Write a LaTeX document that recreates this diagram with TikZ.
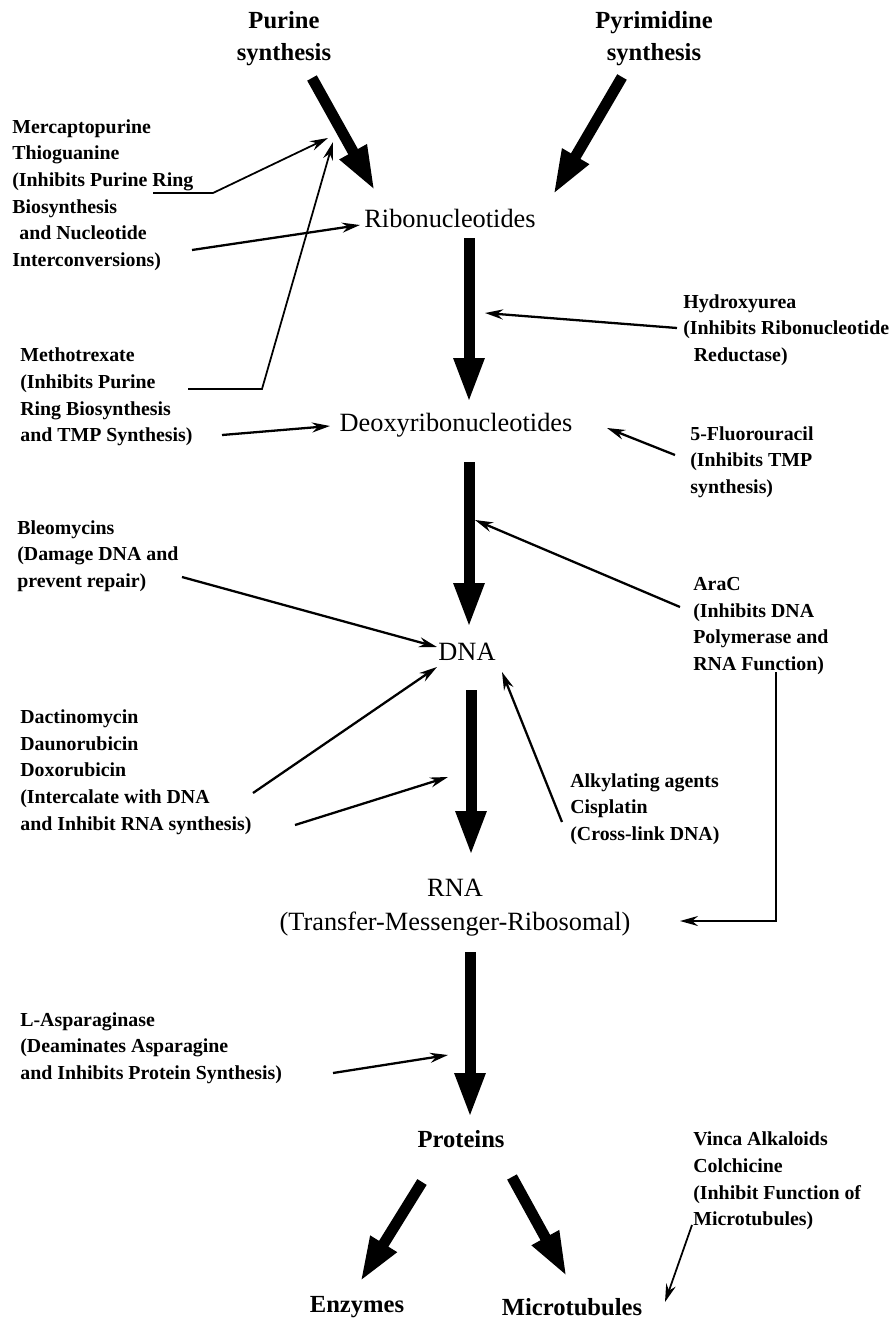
\documentclass[tikz,border=0pt]{standalone}
\usepackage{fontspec}
\setmainfont{Liberation Serif}
\usetikzlibrary{arrows.meta}

\begin{document}
\begin{tikzpicture}[
    x=0.02cm, y=-0.02cm,
    every node/.style={inner sep=0pt},
    main/.style={align=center, font=\fontsize{15}{19.4}\selectfont},
    mainb/.style={align=center, font=\fontsize{14}{18.2}\selectfont\bfseries},
    drug/.style={anchor=west, align=left, font=\fontsize{11.3}{15.2}\selectfont\bfseries},
    flow/.style={line width=0.22cm, -{Triangle[length=0.9cm, width=0.56cm]}},
    inh/.style={line width=1.3pt, -{Stealth[length=0.36cm, width=0.2cm]}},
    elbow/.style={line width=1pt, -{Stealth[length=0.36cm, width=0.2cm]}}
]
\useasboundingbox (0,0) rectangle (895,1321);

% 主干节点
\node[mainb] (purine) at (284,39) {Purine\\synthesis};
\node[mainb] (pyrim) at (654,39) {Pyrimidine\\synthesis};
\node[main] (ribo) at (450,218) {Ribonucleotides};
\node[main] (deoxy) at (456,425) {Deoxyribonucleotides};
\node[main] (dna) at (467,652) {DNA};
\node[main] (rna) at (455,908) {RNA\\(Transfer-Messenger-Ribosomal)};
\node[mainb] (prot) at (461,1139) {Proteins};
\node[mainb] (enz) at (357,1307) {Enzymes};
\node[mainb] (micro) at (572,1307) {Microtubules};

% 药物标签
\node[drug] (merc) at (12,195) {Mercaptopurine\\Thioguanine\\(Inhibits Purine Ring\\Biosynthesis\\\hspace*{4pt}and Nucleotide\\Interconversions)};
\node[drug] (mtx) at (20,397) {Methotrexate\\(Inhibits Purine\\Ring Biosynthesis\\and TMP Synthesis)};
\node[drug] (hydro) at (683,330) {Hydroxyurea\\(Inhibits Ribonucleotide\\\hspace*{6pt}Reductase)};
\node[drug] (fu) at (690,462) {5-Fluorouracil\\(Inhibits TMP\\synthesis)};
\node[drug] (bleo) at (17,556) {Bleomycins\\(Damage DNA and\\prevent repair)};
\node[drug] (arac) at (693,626) {AraC\\(Inhibits DNA\\Polymerase and\\RNA Function)};
\node[drug] (dact) at (20,772) {Dactinomycin\\Daunorubicin\\Doxorubicin\\(Intercalate with DNA\\and Inhibit RNA synthesis)};
\node[drug] (alky) at (570,809) {Alkylating agents\\Cisplatin\\(Cross-link DNA)};
\node[drug] (aspar) at (20,1048) {L-Asparaginase\\(Deaminates Asparagine\\and Inhibits Protein Synthesis)};
\node[drug] (vinca) at (693,1181) {Vinca Alkaloids\\Colchicine\\(Inhibit Function of\\Microtubules)};

% 粗箭头端点
\coordinate (pu-s) at (312,78);   \coordinate (pu-e) at (375,191);
\coordinate (py-s) at (622,77);   \coordinate (py-e) at (553,195);
\coordinate (rd-s) at (469,238);  \coordinate (rd-e) at (469,403);
\coordinate (dd-s) at (469,462);  \coordinate (dd-e) at (469,628);
\coordinate (dr-s) at (471,690);  \coordinate (dr-e) at (471,856);
\coordinate (rp-s) at (470,952);  \coordinate (rp-e) at (470,1118);
\coordinate (pe-s) at (422,1182); \coordinate (pe-e) at (360,1282);
\coordinate (pm-s) at (512,1177); \coordinate (pm-e) at (567,1277);

% 主干箭头
\draw[flow] (pu-s) -- (pu-e);
\draw[flow] (py-s) -- (py-e);
\draw[flow] (rd-s) -- (rd-e);
\draw[flow] (dd-s) -- (dd-e);
\draw[flow] (dr-s) -- (dr-e);
\draw[flow] (rp-s) -- (rp-e);
\draw[flow] (pe-s) -- (pe-e);
\draw[flow] (pm-s) -- (pm-e);

% 抑制箭头端点
\coordinate (merc-a) at (153,193); \coordinate (merc-b) at (213,193); \coordinate (merc-t) at (328,138);
\coordinate (merc-c) at (192,250); \coordinate (ribo-in) at (360,225);
\coordinate (mtx-a) at (188,389);  \coordinate (mtx-b) at (262,389);  \coordinate (mtx-t) at (333,142);
\coordinate (mtx-c) at (222,435);  \coordinate (deoxy-in) at (330,426);
\coordinate (hydro-a) at (677,328); \coordinate (hydro-t) at (485,313);
\coordinate (fu-a) at (675,455);   \coordinate (fu-t) at (607,428);
\coordinate (bleo-a) at (182,577); \coordinate (bleo-t) at (437,647);
\coordinate (arac-a) at (680,607); \coordinate (arac-t) at (475,520);
\coordinate (arac-b) at (776,672); \coordinate (arac-c) at (776,921); \coordinate (rna-in) at (680,921);
\coordinate (dact-a) at (253,793); \coordinate (dact-t) at (437,667);
\coordinate (dact-b) at (295,825); \coordinate (dact-u) at (448,777);
\coordinate (alky-a) at (562,822); \coordinate (alky-t) at (502,672);
\coordinate (aspar-a) at (333,1073); \coordinate (aspar-t) at (448,1055);
\coordinate (vinca-a) at (692,1225); \coordinate (vinca-t) at (665,1302);

% 抑制箭头
\draw[elbow] (merc-a) -- (merc-b) -- (merc-t);
\draw[inh] (merc-c) -- (ribo-in);
\draw[elbow] (mtx-a) -- (mtx-b) -- (mtx-t);
\draw[inh] (mtx-c) -- (deoxy-in);
\draw[inh] (hydro-a) -- (hydro-t);
\draw[inh] (fu-a) -- (fu-t);
\draw[inh] (bleo-a) -- (bleo-t);
\draw[inh] (arac-a) -- (arac-t);
\draw[elbow] (arac-b) -- (arac-c) -- (rna-in);
\draw[inh] (dact-a) -- (dact-t);
\draw[inh] (dact-b) -- (dact-u);
\draw[inh] (alky-a) -- (alky-t);
\draw[inh] (aspar-a) -- (aspar-t);
\draw[elbow] (vinca-a) -- (vinca-t);

\end{tikzpicture}
\end{document}
